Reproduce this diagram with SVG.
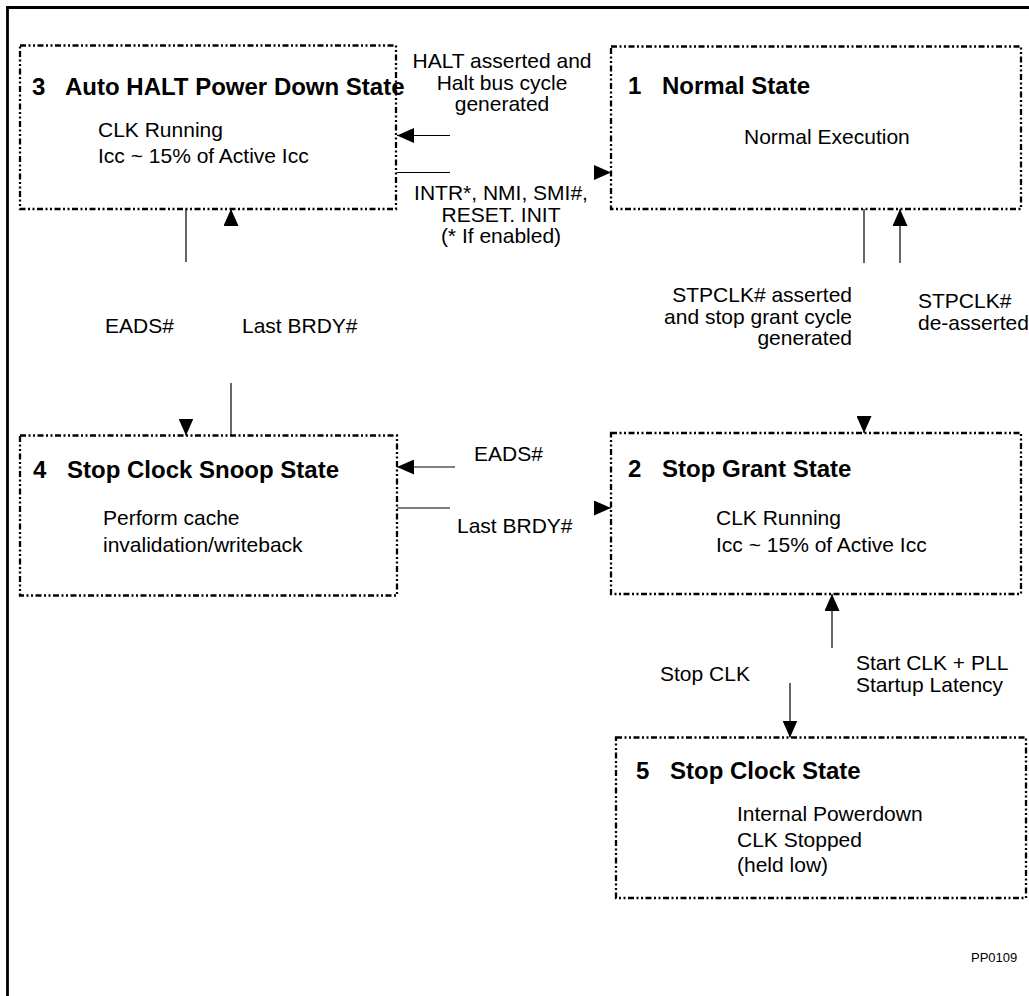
<svg xmlns="http://www.w3.org/2000/svg" width="1029" height="996" viewBox="0 0 1029 996">
<style>
  text { font-family: "Liberation Sans", Arial, sans-serif; fill: #000; }
  .title { font-size: 24px; font-weight: bold; }
  .body { font-size: 21px; }
  .lbl { font-size: 21px; }
  .mid { text-anchor: middle; }
  .end { text-anchor: end; }
  .box { fill: none; stroke: #000; stroke-width: 2.3; stroke-dasharray: 6 2.5 2 2.5 2 2.5; }
  .conn { fill: none; stroke: #000; stroke-width: 1.2; marker-end: url(#arr); }
  .frame { fill: none; stroke: #000; stroke-width: 2.8; }
</style>
<defs>
  <marker id="arr" markerUnits="userSpaceOnUse" markerWidth="17" markerHeight="15" viewBox="0 0 17 15" refX="17" refY="7.5" orient="auto">
    <path d="M0,0 L17,7.5 L0,15 Z" fill="#000"/>
  </marker>
</defs>
<rect width="1029" height="996" fill="#fff"/>
<path class="frame" d="M7.5,996 V7.5 H1029"/>

<g id="node3">
  <rect class="box" x="20" y="45.5" width="376" height="163.5"/>
  <text class="title" y="95"><tspan x="32">3</tspan><tspan x="65">Auto HALT Power Down State</tspan></text>
  <text class="body" x="98" y="137">CLK Running</text>
  <text class="body" x="98" y="163">Icc ~ 15% of Active Icc</text>
</g>

<g id="node1">
  <rect class="box" x="611" y="46.5" width="410" height="162.5"/>
  <text class="title" y="94"><tspan x="628">1</tspan><tspan x="662">Normal State</tspan></text>
  <text class="body" x="744" y="144">Normal Execution</text>
</g>

<g id="node4">
  <rect class="box" x="20" y="435.5" width="377" height="160"/>
  <text class="title" y="478"><tspan x="33">4</tspan><tspan x="67">Stop Clock Snoop State</tspan></text>
  <text class="body" x="103" y="525">Perform cache</text>
  <text class="body" x="103" y="552">invalidation/writeback</text>
</g>

<g id="node2">
  <rect class="box" x="611" y="433" width="410" height="161"/>
  <text class="title" y="477"><tspan x="628">2</tspan><tspan x="662">Stop Grant State</tspan></text>
  <text class="body" x="716" y="525">CLK Running</text>
  <text class="body" x="716" y="552">Icc ~ 15% of Active Icc</text>
</g>

<g id="node5">
  <rect class="box" x="616" y="737.5" width="410" height="160.5"/>
  <text class="title" y="779"><tspan x="636">5</tspan><tspan x="670">Stop Clock State</tspan></text>
  <text class="body" x="737" y="821">Internal Powerdown</text>
  <text class="body" x="737" y="847">CLK Stopped</text>
  <text class="body" x="737" y="872">(held low)</text>
</g>

<g id="connectors">
  <path class="conn" d="M450,135.5 H397"/>
  <path class="conn" d="M397,172.5 H450 M594,172.5 H611"/>
  <path class="conn" d="M186,209 V262 M186,419 V435.5"/>
  <path class="conn" d="M231,435.5 V383 M231,226 V209"/>
  <path class="conn" d="M864,209 V263 M864,416 V433"/>
  <path class="conn" d="M900,263 V209"/>
  <path class="conn" d="M455,467 H397"/>
  <path class="conn" d="M397,508 H450 M594,508 H611"/>
  <path class="conn" d="M790,683 V737.5"/>
  <path class="conn" d="M832,648 V594"/>
</g>

<g id="labels">
  <text class="lbl mid" x="502" y="68">HALT asserted and</text>
  <text class="lbl mid" x="502" y="89.5">Halt bus cycle</text>
  <text class="lbl mid" x="502" y="111">generated</text>
  <text class="lbl mid" x="501" y="200">INTR*, NMI, SMI#,</text>
  <text class="lbl mid" x="501" y="221.5">RESET. INIT</text>
  <text class="lbl mid" x="501" y="243">(* If enabled)</text>
  <text class="lbl" x="105" y="333">EADS#</text>
  <text class="lbl" x="242" y="333">Last BRDY#</text>
  <text class="lbl end" x="852" y="302">STPCLK# asserted</text>
  <text class="lbl end" x="852" y="323.5">and stop grant cycle</text>
  <text class="lbl end" x="852" y="345">generated</text>
  <text class="lbl" x="918" y="308">STPCLK#</text>
  <text class="lbl" x="918" y="330">de-asserted</text>
  <text class="lbl" x="474" y="461">EADS#</text>
  <text class="lbl" x="457" y="533">Last BRDY#</text>
  <text class="lbl" x="660" y="681">Stop CLK</text>
  <text class="lbl" x="856" y="670">Start CLK + PLL</text>
  <text class="lbl" x="856" y="692">Startup Latency</text>
  <text x="971" y="962" font-size="13">PP0109</text>
</g>
</svg>
